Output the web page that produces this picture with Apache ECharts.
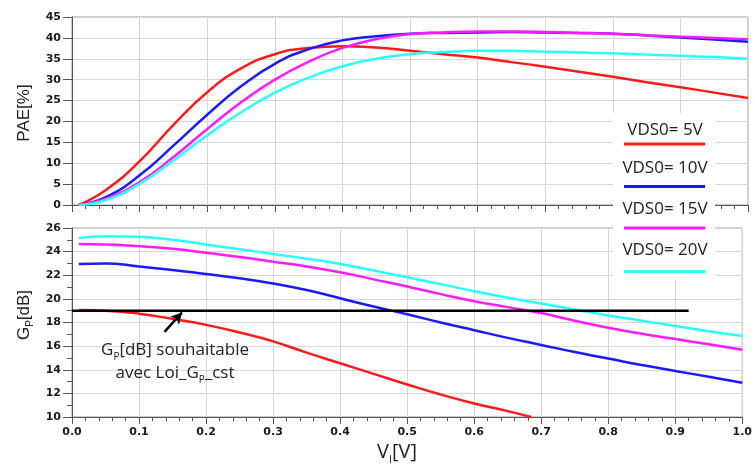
<!DOCTYPE html>
<html>
<head>
<meta charset="utf-8">
<script src="https://cdn.jsdelivr.net/npm/echarts@6/dist/echarts.min.js"></script>
<style>html,body{margin:0;padding:0;background:#fff;}#c{width:755px;height:467px;}</style>
</head>
<body>
<div id="c"></div>
<script>
// ---- data ----
var vi = [0.01,0.05,0.10,0.15,0.20,0.25,0.30,0.35,0.40,0.45,0.50,0.55,0.60,0.65,0.70,0.75,0.80,0.85,0.90,0.95,1.00];
var seriesNames = ['VDS0= 5V','VDS0= 10V','VDS0= 15V','VDS0= 20V'];
var pae5  = [0,3.6,10.5,19.2,27.0,32.7,36.1,37.6,38.0,37.7,36.9,36.1,35.3,34.2,33.1,31.9,30.7,29.4,28.2,26.9,25.6];
var pae10 = [0,1.9,7.1,14.2,21.6,28.4,33.8,37.3,39.4,40.4,41.0,41.2,41.3,41.4,41.3,41.2,41.0,40.6,40.1,39.6,39.1];
var pae15 = [0,1.5,5.5,11.5,18.2,24.6,30.0,34.3,37.6,39.7,40.9,41.3,41.5,41.5,41.4,41.2,41.0,40.6,40.3,40.0,39.7];
var pae20 = [0,1.2,5.1,10.7,16.7,22.2,26.9,30.5,33.2,35.0,36.1,36.6,36.9,36.9,36.7,36.5,36.3,36.0,35.7,35.4,35.0];
var viGain5 = [0.01,0.05,0.10,0.15,0.20,0.25,0.30,0.35,0.40,0.45,0.50,0.55,0.60,0.65,0.685];
var gp5  = [19.05,19.0,18.75,18.3,17.8,17.15,16.4,15.45,14.55,13.65,12.75,11.9,11.15,10.5,10.0];
var gp10 = [22.95,23.0,22.75,22.45,22.1,21.75,21.3,20.75,20.05,19.35,18.7,18.0,17.35,16.7,16.1,15.5,14.95,14.4,13.9,13.4,12.9];
var gp15 = [24.65,24.6,24.45,24.25,23.9,23.55,23.15,22.75,22.25,21.65,21.05,20.4,19.8,19.3,18.8,18.15,17.55,17.05,16.6,16.15,15.7];
var gp20 = [25.15,25.3,25.25,25.0,24.6,24.2,23.8,23.4,22.95,22.4,21.83,21.25,20.65,20.1,19.6,19.1,18.6,18.15,17.7,17.25,16.85];
var targetX = [0.0, 0.92];
var targetGp = [19.0, 19.0];
var arrowFrom = [0.138, 17.2];
var arrowTo = [0.164, 18.85];
var xTicks = {min:0, max:1, interval:0.1};
var paeTicks = {min:0, max:45, interval:5};
var gpTicks = {min:10, max:26, interval:2};
var colors = ['#ff1a1a','#1a1aff','#ff1aff','#2affff'];

function pairs(xs, ys){ return ys.map(function(y,i){ return [xs[i], y]; }); }

var chart = echarts.init(document.getElementById('c'), null, {renderer:'canvas'});
var tickFont = {fontFamily:'DejaVu Sans', fontWeight:'bold', fontSize:11, color:'#1a1a1a'};
var gridLine = {lineStyle:{color:'#d6d6d6', width:1}};
var axisLine = {lineStyle:{color:'#555', width:1}};

function xAx(gi, showLabel){
  return {type:'value', gridIndex:gi, min:xTicks.min, max:xTicks.max, interval:xTicks.interval,
    axisLine:axisLine, axisTick:{length:7, lineStyle:{color:'#555'}},
    minorTick:{show:true, splitNumber:5, length:4, lineStyle:{color:'#555'}},
    splitLine:gridLine,
    axisLabel:Object.assign({show:showLabel, margin:10, formatter:function(v){return v.toFixed(1);}}, tickFont)};
}
function yAx(gi, t, minor){
  return {type:'value', gridIndex:gi, min:t.min, max:t.max, interval:t.interval,
    axisLine:Object.assign({show:true}, axisLine), axisTick:{show:true, length:9, lineStyle:{color:'#555'}},
    minorTick:{show:minor, splitNumber:2, length:5, lineStyle:{color:'#555'}},
    splitLine:gridLine,
    axisLabel:Object.assign({margin:11}, tickFont)};
}
function line(name, data, xi, color){
  return {name:name, type:'line', xAxisIndex:xi, yAxisIndex:xi, data:data, smooth:0.5, showSymbol:false,
    symbol:'none', lineStyle:{color:color, width:2.5}, itemStyle:{color:color}, z:3};
}

var txt = '#222';
var option = {
  animation:false,
  backgroundColor:'#fff',
  grid:[
    {left:72, top:17, width:676, height:188, show:true, borderColor:'#999', borderWidth:1},
    {left:72, top:228, width:676, height:189, show:true, borderColor:'#999', borderWidth:1}
  ],
  xAxis:[xAx(0,false), xAx(1,true)],
  yAxis:[yAx(0,paeTicks,false), yAx(1,gpTicks,true)],
  series:[
    line(seriesNames[0], pairs(vi,pae5), 0, colors[0]),
    line(seriesNames[1], pairs(vi,pae10), 0, colors[1]),
    line(seriesNames[2], pairs(vi,pae15), 0, colors[2]),
    line(seriesNames[3], pairs(vi,pae20), 0, colors[3]),
    line(seriesNames[0], pairs(viGain5,gp5), 1, colors[0]),
    line(seriesNames[1], pairs(vi,gp10), 1, colors[1]),
    line(seriesNames[2], pairs(vi,gp15), 1, colors[2]),
    line(seriesNames[3], pairs(vi,gp20), 1, colors[3]),
    {name:'target', type:'line', xAxisIndex:1, yAxisIndex:1, data:pairs(targetX,targetGp), showSymbol:false, symbol:'none',
     lineStyle:{color:'#000', width:2.5}, z:4,
     markLine:{silent:true, symbol:['none','arrow'], symbolSize:[9,11], label:{show:false},
       lineStyle:{color:'#000', width:2.5, type:'solid'},
       data:[[{coord:arrowFrom},{coord:arrowTo}]]}}
  ],
  graphic:[
    {type:'text', x:24, y:113, rotation:Math.PI/2, z:100,
     style:{text:'PAE[%]', font:'17px "Liberation Sans"', fill:txt, align:'center', verticalAlign:'middle'}},
    {type:'text', x:24, y:315, rotation:Math.PI/2, z:100,
     style:{text:'{a|G}{s|P}{a|[dB]}', align:'center', verticalAlign:'middle', fill:txt,
       rich:{a:{fontFamily:'Liberation Sans', fontSize:17, lineHeight:22, fill:txt},
             s:{fontFamily:'Liberation Sans', fontSize:10, lineHeight:8, verticalAlign:'bottom', fill:txt}}}},
    {type:'text', x:397, y:452, z:100,
     style:{text:'{a|V}{s|I}{a|[V]}', align:'center', verticalAlign:'middle', fill:txt,
       rich:{a:{fontFamily:'Open Sans', fontSize:20, lineHeight:26, fill:txt},
             s:{fontFamily:'Open Sans', fontSize:11, lineHeight:8, verticalAlign:'bottom', fill:txt}}}},
    {type:'text', x:175, y:362, z:100,
     style:{text:'{a|G}{s|P}{a|[dB] souhaitable}\n{a|avec Loi_G}{s|P}{a|_cst}', align:'center', verticalAlign:'middle', fill:txt,
       rich:{a:{fontFamily:'Open Sans', fontSize:17, lineHeight:23, fill:txt, align:'center'},
             s:{fontFamily:'Open Sans', fontSize:10, lineHeight:8, verticalAlign:'bottom', fill:txt}}}},
    {type:'rect', shape:{x:613, y:113, width:102, height:167}, style:{fill:'#fff'}, z:90},
    {type:'text', x:665, y:130, z:100, style:{text:seriesNames[0], font:'17px "Open Sans"', fill:txt, align:'center', verticalAlign:'middle'}},
    {type:'line', shape:{x1:624, y1:144, x2:705, y2:144}, style:{stroke:colors[0], lineWidth:3}, z:100},
    {type:'text', x:665, y:168, z:100, style:{text:seriesNames[1], font:'17px "Open Sans"', fill:txt, align:'center', verticalAlign:'middle'}},
    {type:'line', shape:{x1:624, y1:186.5, x2:705, y2:186.5}, style:{stroke:colors[1], lineWidth:3}, z:100},
    {type:'text', x:665, y:209, z:100, style:{text:seriesNames[2], font:'17px "Open Sans"', fill:txt, align:'center', verticalAlign:'middle'}},
    {type:'line', shape:{x1:624, y1:228, x2:705, y2:228}, style:{stroke:colors[2], lineWidth:3}, z:100},
    {type:'text', x:665, y:250, z:100, style:{text:seriesNames[3], font:'17px "Open Sans"', fill:txt, align:'center', verticalAlign:'middle'}},
    {type:'line', shape:{x1:624, y1:271.5, x2:705, y2:271.5}, style:{stroke:colors[3], lineWidth:3}, z:100}
  ]
};
chart.setOption(option);
</script>
</body>
</html>
